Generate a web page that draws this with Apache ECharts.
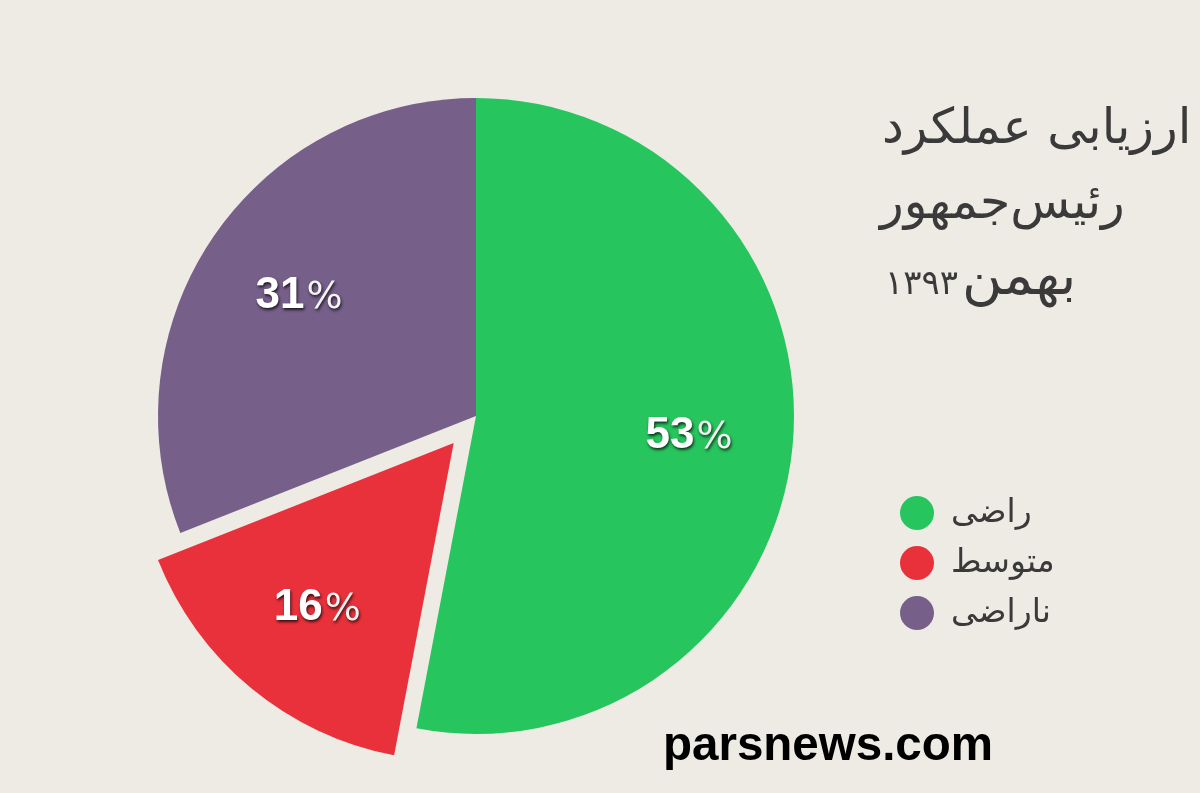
<!DOCTYPE html>
<html><head><meta charset="utf-8">
<script src="https://cdn.jsdelivr.net/npm/echarts@6/dist/echarts.min.js"></script>
<style>html,body{margin:0;padding:0;background:#eeebe5}#c{width:1200px;height:793px}</style>
</head><body><div id="c"></div>
<script>
const categories = ['راضی', 'متوسط', 'ناراضی'];
const values = [53, 16, 31];
const colors = ['#27c55e', '#e8313b', '#765f89'];
const explodedIndex = 1;
const titleLines = ['ارزیابی عملکرد', 'رئیس‌جمهور'];
const titleMonth = 'بهمن';
const titleYear = '۱۳۹۳';
const source = 'parsnews.com';

const chart = echarts.init(document.getElementById('c'));
const pieData = categories.map((n, i) => ({
  name: n, value: values[i], selected: i === explodedIndex,
  itemStyle: { color: colors[i] }
}));
const labelData = categories.map((n, i) => ({
  name: n, value: values[i], selected: i === explodedIndex
}));
const shadow = { textShadowColor: 'rgba(0,0,0,0.75)', textShadowBlur: 3, textShadowOffsetX: 1, textShadowOffsetY: 2 };
chart.setOption({
  backgroundColor: '#eeebe5',
  animation: false,
  legend: {
    orient: 'vertical', left: 895, top: 491, itemGap: 16,
    itemWidth: 34, itemHeight: 34, icon: 'circle',
    data: categories.map((n, i) => ({ name: n, itemStyle: { color: colors[i] } })),
    textStyle: { fontFamily: 'DejaVu Sans', fontSize: 33, color: '#3a3a3a', padding: [0, 0, 0, 12] },
    selectedMode: false
  },
  graphic: [
    { type: 'text', left: 882, top: 106, style: { text: titleLines[0], font: '49px "DejaVu Sans"', fill: '#3a3a3a' } },
    { type: 'text', left: 880, top: 181, style: { text: titleLines[1], font: '49px "DejaVu Sans"', fill: '#3a3a3a' } },
    { type: 'text', left: 885, top: 252, style: {
      text: '{y|' + titleYear + '}{s| }{m|' + titleMonth + '}',
      rich: { y: { fontFamily: 'DejaVu Sans', fontSize: 34, fill: '#3a3a3a', verticalAlign: 'bottom', padding: [0, 0, 5, 0] },
              s: { fontSize: 14 },
              m: { fontFamily: 'DejaVu Sans', fontSize: 55, fill: '#3a3a3a' } } } },
    { type: 'text', left: 663, top: 723, style: {
      text: source, font: 'bold 47.5px "Liberation Sans", Arial', fill: '#000' } }
  ],
  series: [
    {
      type: 'pie', center: [476, 416], radius: [0, 318], startAngle: 90, clockwise: true,
      selectedMode: 'single', selectedOffset: 35, silent: true,
      label: { show: false }, labelLine: { show: false },
      data: pieData
    },
    {
      type: 'pie', center: [476, 416], radius: [104, 318], startAngle: 90, clockwise: true,
      selectedMode: 'single', selectedOffset: 35, silent: true,
      itemStyle: { color: 'rgba(0,0,0,0)' },
      label: {
        show: true, position: 'inside',
        formatter: p => '{v|' + p.value + '}{p|%}',
        rich: {
          v: Object.assign({ fontFamily: 'Liberation Sans', fontWeight: 'bold', fontSize: 44, color: '#fff' }, shadow),
          p: Object.assign({ fontFamily: 'DejaVu Sans', fontWeight: 'normal', fontSize: 38, color: '#f4f4f4', padding: [4, 0, 0, 2] }, shadow)
        }
      },
      labelLine: { show: false },
      data: labelData
    }
  ]
});
</script></body></html>
